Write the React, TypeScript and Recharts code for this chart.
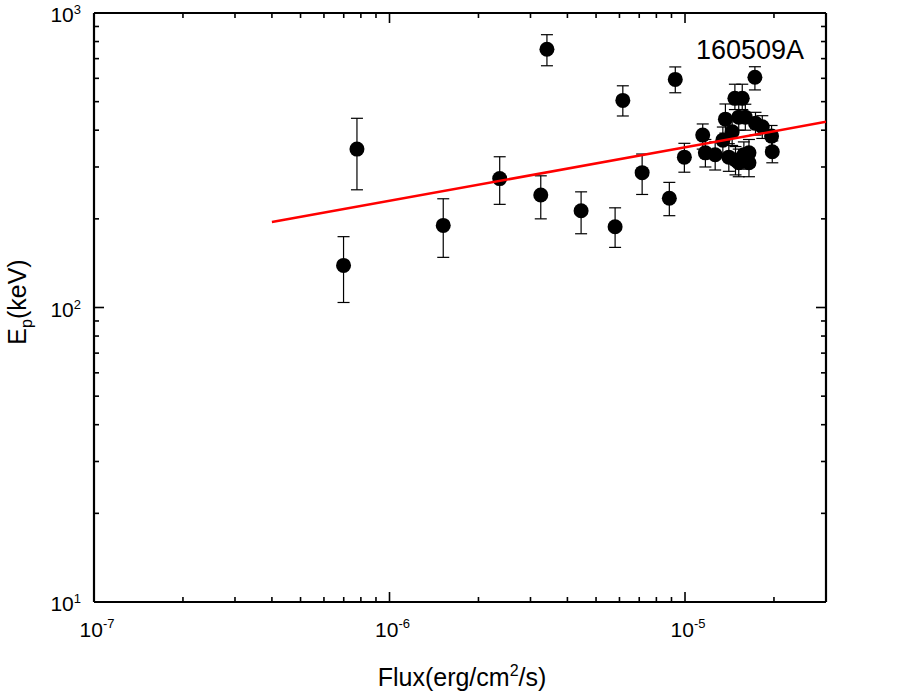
import { ScatterChart, Scatter, XAxis, YAxis, ErrorBar, Label } from "recharts";

const FONT = "'Liberation Sans', Arial, Helvetica, sans-serif";

// Flux (erg/cm^2/s) and Ep (keV) with lower/upper error bounds
const fluxValues = [
  6.99e-7, 7.76e-7, 1.52e-6, 2.36e-6, 3.25e-6, 3.41e-6, 4.45e-6, 5.8e-6, 6.16e-6,
  7.16e-6, 8.85e-6, 9.27e-6, 9.95e-6, 1.148e-5, 1.172e-5, 1.265e-5, 1.343e-5,
  1.37e-5, 1.444e-5, 1.407e-5, 1.482e-5, 1.582e-5, 1.646e-5, 1.52e-5, 1.646e-5,
  1.732e-5, 1.826e-5, 1.963e-5, 1.974e-5, 1.475e-5, 1.562e-5, 1.52e-5, 1.6e-5,
  1.724e-5,
];
const epValues = [
  139, 345, 190, 274, 241, 753, 213, 188, 505, 287, 235, 595, 324, 385, 335, 330,
  370, 436, 395, 324, 317, 330, 335, 310, 310, 422, 411, 382, 338, 513, 513, 443,
  443, 605,
];
const epLow = [
  104, 251, 148, 224, 200, 662, 178, 160, 447, 242, 205, 536, 288, 345, 300, 293,
  332, 391, 355, 290, 282, 295, 300, 278, 278, 385, 375, 350, 310, 470, 470, 400,
  400, 548,
];
const epHigh = [
  174, 439, 234, 325, 280, 844, 247, 218, 566, 332, 266, 656, 361, 420, 372, 365,
  410, 491, 440, 360, 352, 365, 372, 345, 345, 460, 448, 415, 368, 573, 573, 490,
  490, 657,
];

// linear fit in log-log space
const fitFlux = [4e-7, 3e-5];
const fitEp = [195, 427];

const xTicks = [
  1e-7, 2e-7, 3e-7, 4e-7, 5e-7, 6e-7, 7e-7, 8e-7, 9e-7,
  1e-6, 2e-6, 3e-6, 4e-6, 5e-6, 6e-6, 7e-6, 8e-6, 9e-6,
  1e-5, 2e-5,
];
const yTicks = [
  10, 20, 30, 40, 50, 60, 70, 80, 90,
  100, 200, 300, 400, 500, 600, 700, 800, 900, 1000,
];

const points = fluxValues.map((x, i) => ({
  x,
  y: epValues[i],
  err: [epValues[i] - epLow[i], epHigh[i] - epValues[i]],
}));
const fitLine = fitFlux.map((x, i) => ({ x, y: fitEp[i] }));

const isDecade = (v: number) => Math.abs(Math.log10(v) - Math.round(Math.log10(v))) < 1e-6;
const expOf = (v: number) => Math.round(Math.log10(v));

const MAJOR = 10;
const MINOR = 5;

const BottomTick = ({ x, y, payload }: any) => {
  const v = payload.value;
  const major = isDecade(v);
  return (
    <g>
      <line x1={x} x2={x} y1={y} y2={y - (major ? MAJOR : MINOR)} stroke="#000" strokeWidth={1.6} />
      {major && (
        <text x={x + 3} y={y + 35} textAnchor="middle" fontSize={21} fontFamily={FONT} fill="#000">
          10
          <tspan dy={-9} fontSize={13}>{expOf(v)}</tspan>
        </text>
      )}
    </g>
  );
};

const TopTick = ({ x, y, payload }: any) => {
  const major = isDecade(payload.value);
  return <line x1={x} x2={x} y1={y} y2={y + (major ? MAJOR : MINOR)} stroke="#000" strokeWidth={1.6} />;
};

const LeftTick = ({ x, y, payload }: any) => {
  const v = payload.value;
  const major = isDecade(v);
  return (
    <g>
      <line x1={x} x2={x + (major ? MAJOR : MINOR)} y1={y} y2={y} stroke="#000" strokeWidth={1.6} />
      {major && (
        <text x={x - 13} y={y + 9} textAnchor="end" fontSize={21} fontFamily={FONT} fill="#000">
          10
          <tspan dy={-8} fontSize={13}>{expOf(v)}</tspan>
        </text>
      )}
    </g>
  );
};

const RightTick = ({ x, y, payload }: any) => {
  const major = isDecade(payload.value);
  return <line x1={x} x2={x - (major ? MAJOR : MINOR)} y1={y} y2={y} stroke="#000" strokeWidth={1.6} />;
};

const Dot = (p: any) => <circle cx={p.cx} cy={p.cy} r={7.5} fill="#000" />;
const NoDot = () => <g />;

const axisLine = { stroke: "#000", strokeWidth: 2.2 };

export default function App() {
  return (
    <div style={{ position: "absolute", left: 0, top: 0, background: "#fff" }}>
      <ScatterChart width={917} height={695} margin={{ top: 12, right: 90, bottom: 33, left: 0 }}>
        <XAxis
          xAxisId="b"
          dataKey="x"
          type="number"
          scale="log"
          domain={[1e-7, 3e-5]}
          allowDataOverflow
          ticks={xTicks}
          interval={0}
          tickSize={0}
          tickMargin={0}
          tickLine={false}
          tick={<BottomTick />}
          axisLine={axisLine}
          height={60}
        >
          <Label
            content={() => (
              <g>
                <text x={462} y={686} textAnchor="middle" fontSize={25} fontFamily={FONT} fill="#000">
                  Flux(erg/cm
                  <tspan dy={-10} fontSize={16}>2</tspan>
                  <tspan dy={10}>/s)</tspan>
                </text>
                <text x={696} y={59} fontSize={27} fontFamily={FONT} fill="#000">
                  160509A
                </text>
              </g>
            )}
          />
        </XAxis>
        <XAxis
          xAxisId="t"
          orientation="top"
          dataKey="x"
          type="number"
          scale="log"
          domain={[1e-7, 3e-5]}
          allowDataOverflow
          ticks={xTicks}
          interval={0}
          tickSize={0}
          tickMargin={0}
          tickLine={false}
          tick={<TopTick />}
          axisLine={axisLine}
          height={1}
        />
        <YAxis
          yAxisId="l"
          dataKey="y"
          type="number"
          scale="log"
          domain={[10, 1000]}
          allowDataOverflow
          ticks={yTicks}
          interval={0}
          tickSize={0}
          tickMargin={0}
          tickLine={false}
          tick={<LeftTick />}
          axisLine={axisLine}
          width={94}
        >
          <Label
            content={() => (
              <text
                x={26}
                y={302}
                transform="rotate(-90 26 302)"
                textAnchor="middle"
                fontSize={25}
                fontFamily={FONT}
                fill="#000"
              >
                E<tspan dy={6} fontSize={16}>p</tspan>
                <tspan dy={-6}>(keV)</tspan>
              </text>
            )}
          />
        </YAxis>
        <YAxis
          yAxisId="r"
          orientation="right"
          dataKey="y"
          type="number"
          scale="log"
          domain={[10, 1000]}
          allowDataOverflow
          ticks={yTicks}
          interval={0}
          tickSize={0}
          tickMargin={0}
          tickLine={false}
          tick={<RightTick />}
          axisLine={axisLine}
          width={1}
        />
        <Scatter xAxisId="t" yAxisId="r" data={fitLine} shape={NoDot} isAnimationActive={false} />
        <Scatter xAxisId="b" yAxisId="l" data={points} shape={Dot} isAnimationActive={false}>
          <ErrorBar dataKey="err" direction="y" width={6} stroke="#000" strokeWidth={1.2} />
        </Scatter>
        <Scatter
          xAxisId="b"
          yAxisId="l"
          data={fitLine}
          shape={NoDot}
          line={{ stroke: "#ff0000", strokeWidth: 2.5 }}
          isAnimationActive={false}
        />
      </ScatterChart>
    </div>
  );
}
